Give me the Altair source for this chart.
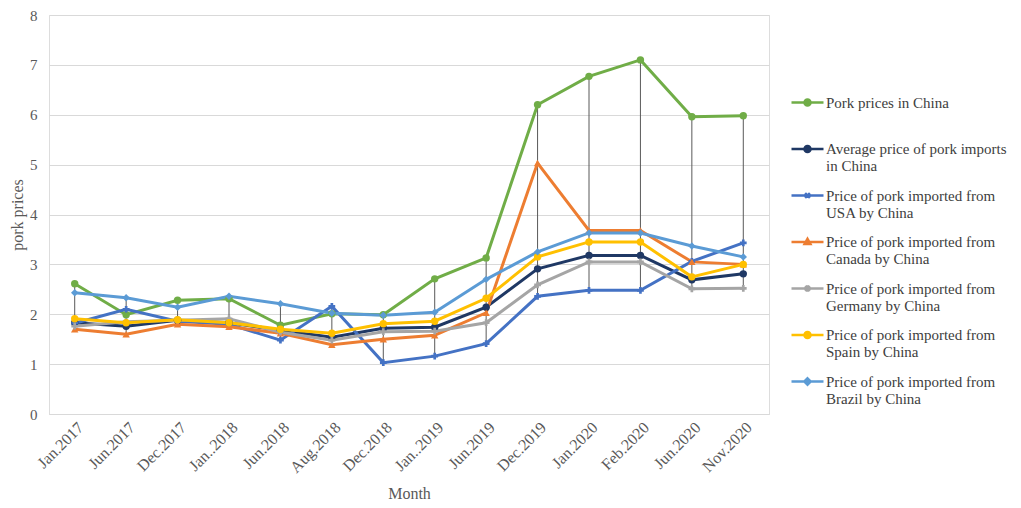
import json
import altair as alt
import pandas as pd

months = ["Jan.2017", "Jun.2017", "Dec.2017", "Jan..2018", "Jun.2018", "Aug.2018",
          "Dec.2018", "Jan..2019", "Jun.2019", "Dec.2019", "Jan.2020", "Feb.2020",
          "Jun.2020", "Nov.2020"]

series_names = [
    "Pork prices in China",
    "Average price of pork imports in China",
    "Price of pork imported from USA by China",
    "Price of pork imported from Canada by China",
    "Price of pork imported from Germany by China",
    "Price of pork imported from Spain by China",
    "Price of pork imported from Brazil by China",
]

china = [2.61, 1.99, 2.28, 2.31, 1.78, 2.01, 1.99, 2.71, 3.13, 6.20, 6.77, 7.10, 5.96, 5.98]
average = [1.83, 1.76, 1.88, 1.83, 1.68, 1.54, 1.72, 1.74, 2.14, 2.91, 3.18, 3.18, 2.69, 2.81]
usa = [1.82, 2.10, 1.86, 1.80, 1.48, 2.16, 1.03, 1.16, 1.41, 2.36, 2.48, 2.48, 3.06, 3.43]
canada = [1.70, 1.60, 1.80, 1.75, 1.62, 1.39, 1.50, 1.58, 2.03, 5.03, 3.68, 3.68, 3.05, 3.00]
germany = [1.76, 1.85, 1.88, 1.91, 1.64, 1.48, 1.65, 1.66, 1.83, 2.59, 3.05, 3.05, 2.51, 2.52]
spain = [1.91, 1.83, 1.89, 1.83, 1.70, 1.62, 1.81, 1.86, 2.32, 3.15, 3.45, 3.45, 2.75, 3.00]
brazil = [2.43, 2.33, 2.14, 2.36, 2.21, 2.02, 1.98, 2.04, 2.70, 3.25, 3.63, 3.63, 3.37, 3.15]

series_values = [china, average, usa, canada, germany, spain, brazil]
colors = ["#70AD47", "#1F3864", "#4472C4", "#ED7D31", "#A5A5A5", "#FFC000", "#5B9BD5"]
marker_shapes = ["circle", "circle", "cross", "triangle-up", "cross", "circle", "diamond"]

rows = []
for si, (name, vals) in enumerate(zip(series_names, series_values)):
    for mi, (m, v) in enumerate(zip(months, vals)):
        rows.append({"month": m, "mi": mi, "series": name, "value": v, "sidx": si})
df = pd.DataFrame(rows)

FONT = "Liberation Serif"

month_label_expr = json.dumps(months) + "[round(datum.value)]"

xscale = alt.Scale(domain=[-0.5, len(months) - 0.5], nice=False, zero=False)
xenc = alt.X("mi:Q", title="Month", scale=xscale,
             axis=alt.Axis(values=list(range(len(months))), labelExpr=month_label_expr,
                           labelAngle=-45, labelFontSize=16, labelColor="#595959",
                           labelFont=FONT, titleFont=FONT, titleFontSize=16,
                           titleColor="#595959", titleFontWeight="normal",
                           ticks=False, grid=False, domainColor="#D9D9D9",
                           labelPadding=5, titlePadding=10, labelFlush=False,
                           labelOverlap=False))
yenc = alt.Y("value:Q", title="pork prices",
             scale=alt.Scale(domain=[0, 8]),
             axis=alt.Axis(values=list(range(9)), labelFontSize=15, labelColor="#595959",
                           labelFont=FONT, titleFont=FONT, titleFontSize=16,
                           titleColor="#595959", titleFontWeight="normal",
                           ticks=False, domain=False, gridColor="#D9D9D9",
                           labelPadding=12, titlePadding=4))

color_scale = alt.Scale(domain=series_names, range=colors)

# high-low lines
hilo = alt.Chart(df).mark_rule(color="#595959", strokeWidth=1).encode(
    x=alt.X("mi:Q"),
    y="min(value):Q",
    y2="max(value):Q",
)

lines = alt.Chart(df).mark_line(strokeWidth=3).encode(
    x=xenc,
    y=yenc,
    color=alt.Color("series:N", scale=color_scale, sort=series_names),
    detail="series:N",
    order=alt.Order("mi:Q"),
)

point_layers = []
for name, shp in zip(series_names, marker_shapes):
    pts = alt.Chart(df).transform_filter(alt.datum.series == name).mark_point(
        shape=shp, filled=True, size=55 if shp != "cross" else 45, opacity=1,
        strokeWidth=1.5
    ).encode(
        x=alt.X("mi:Q"),
        y="value:Q",
        color=alt.Color("series:N", scale=color_scale),
    )
    point_layers.append(pts)

# legend symbol paths: line + marker
legend_paths = [
    "M-1,0L1,0M-0.19,0A0.19,0.19,0,1,0,0.19,0A0.19,0.19,0,1,0,-0.19,0Z",
    "M-1,0L1,0M-0.19,0A0.19,0.19,0,1,0,0.19,0A0.19,0.19,0,1,0,-0.19,0Z",
    "M-1,0L1,0M-0.15,-0.15L0.15,0.15M-0.15,0.15L0.15,-0.15",
    "M-1,0L1,0M0,-0.2L0.18,0.12L-0.18,0.12Z",
    "M-1,0L1,0M-0.15,-0.15L0.15,0.15M-0.15,0.15L0.15,-0.15M0,-0.2L0,0.2",
    "M-1,0L1,0M-0.19,0A0.19,0.19,0,1,0,0.19,0A0.19,0.19,0,1,0,-0.19,0Z",
    "M-1,0L1,0M0,-0.2L0.2,0L0,0.2L-0.2,0Z",
]

label_expr = (
    "indexof(datum.label, ' from ') > 0 ? "
    "[substring(datum.label, 0, indexof(datum.label, ' from ') + 5), "
    "substring(datum.label, indexof(datum.label, ' from ') + 6)] : "
    "indexof(datum.label, 'imports ') > 0 ? "
    "[substring(datum.label, 0, indexof(datum.label, 'imports ') + 7), "
    "substring(datum.label, indexof(datum.label, 'imports ') + 8)] : datum.label"
)

legend_def = alt.Legend(
    orient="none", legendX=741, legendY=70,
    labelFont=FONT, labelFontSize=15, labelColor="#404040",
    labelLimit=250, symbolSize=1024, symbolStrokeWidth=2.5,
    labelExpr=label_expr, gridAlign="all", rowPadding=3.5,
    labelOffset=1,
)

legend_layer = alt.Chart(df).mark_point(
    filled=True, opacity=0
).encode(
    x=alt.X("mi:Q"),
    y="value:Q",
    color=alt.Color("series:N", scale=color_scale, sort=series_names, title=None,
                    legend=legend_def),
    shape=alt.Shape("series:N", sort=series_names,
                    scale=alt.Scale(domain=series_names, range=legend_paths),
                    title=None, legend=legend_def),
)

chart = alt.layer(hilo, lines, *point_layers, legend_layer).properties(
    width=720, height=399,
    background="white",
    padding={"top": 0, "left": 1, "right": 5, "bottom": 0},
).configure_view(stroke=None).configure(font=FONT).configure_legend(
    symbolOpacity=1
)

chart.save("out.html", embed_options={"renderer": "svg", "actions": False})
